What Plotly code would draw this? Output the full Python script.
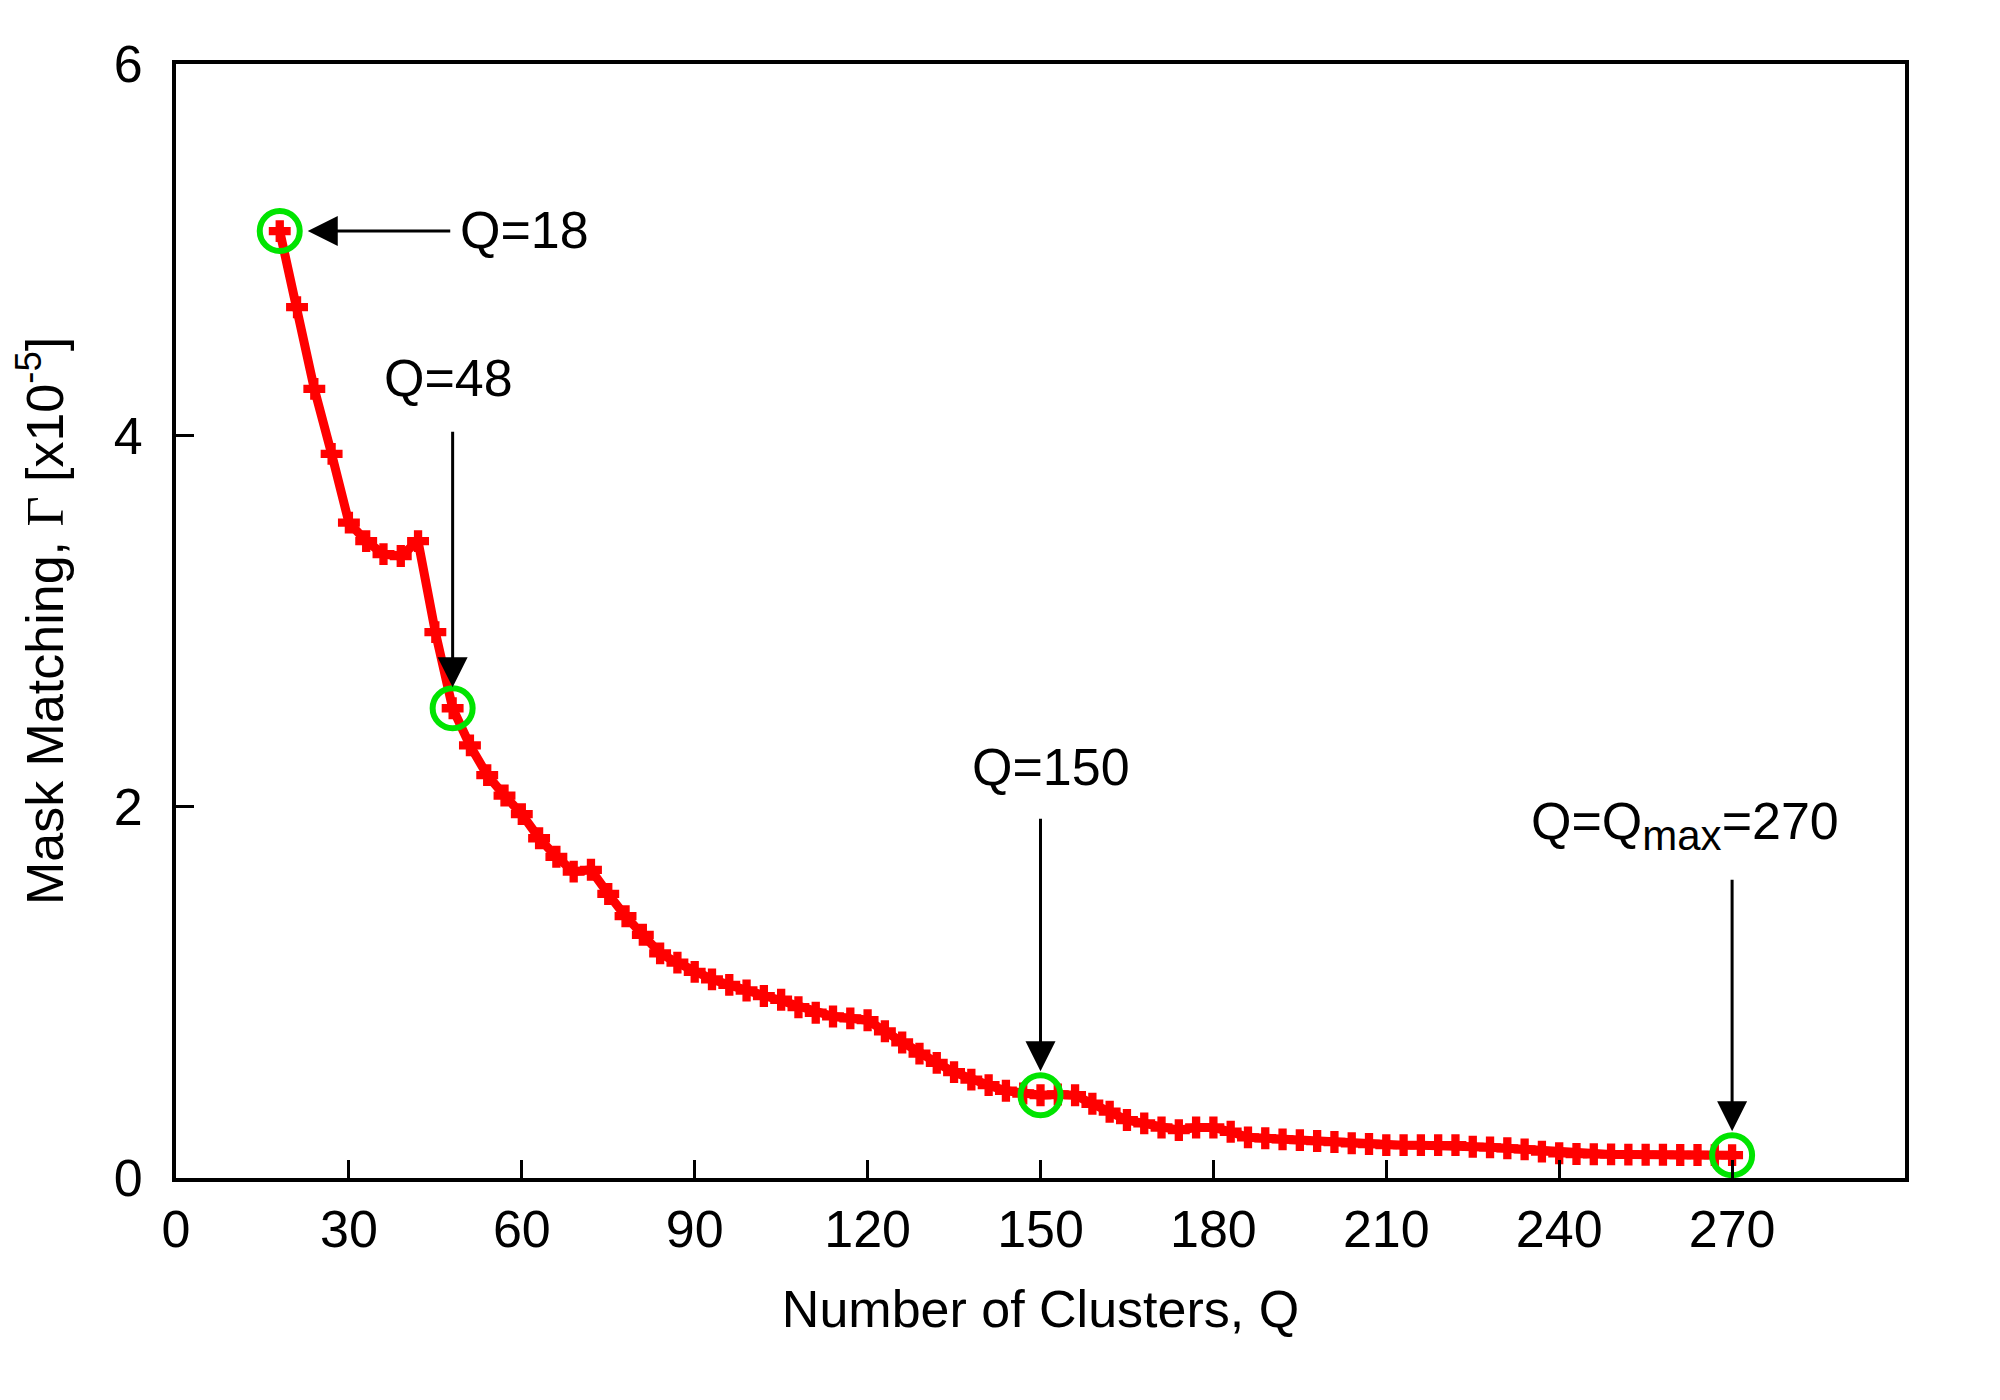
import plotly.graph_objects as go

# Number of clusters Q (every 3rd value from 18 to 270)
q_values = [18, 21, 24, 27, 30, 33, 36, 39, 42, 45, 48, 51, 54, 57, 60, 63, 66, 69, 72, 75,
            78, 81, 84, 87, 90, 93, 96, 99, 102, 105, 108, 111, 114, 117, 120, 123, 126, 129,
            132, 135, 138, 141, 144, 147, 150, 153, 156, 159, 162, 165, 168, 171, 174, 177,
            180, 183, 186, 189, 192, 195, 198, 201, 204, 207, 210, 213, 216, 219, 222, 225,
            228, 231, 234, 237, 240, 243, 246, 249, 252, 255, 258, 261, 264, 267, 270]

# Mask matching Gamma [x1e-5]
gamma = [5.10, 4.69, 4.25, 3.90, 3.53, 3.43, 3.36, 3.35, 3.43, 2.94, 2.53, 2.33, 2.17, 2.06,
         1.96, 1.83, 1.73, 1.65, 1.66, 1.53, 1.41, 1.31, 1.21, 1.16, 1.11, 1.07, 1.04, 1.01,
         0.98, 0.96, 0.92, 0.89, 0.87, 0.86, 0.85, 0.79, 0.73, 0.67, 0.62, 0.57, 0.53, 0.50,
         0.47, 0.455, 0.446, 0.45, 0.446, 0.40, 0.357, 0.312, 0.294, 0.272, 0.258, 0.272,
         0.272, 0.249, 0.219, 0.214, 0.208, 0.204, 0.199, 0.194, 0.187, 0.183, 0.177, 0.177,
         0.177, 0.177, 0.177, 0.168, 0.165, 0.160, 0.154, 0.142, 0.133, 0.129, 0.128, 0.127,
         0.126, 0.125, 0.125, 0.124, 0.124, 0.123, 0.123]

# highlighted cluster counts
marked_q = [18, 48, 150, 270]
marked_gamma = [gamma[q_values.index(q)] for q in marked_q]

x_ticks = [0, 30, 60, 90, 120, 150, 180, 210, 240, 270]
y_ticks = [0, 2, 4, 6]

FONT = "Liberation Sans, Arial, sans-serif"

fig = go.Figure()

fig.add_trace(go.Scatter(
    x=q_values, y=gamma,
    mode="lines+markers",
    line=dict(color="rgb(255,0,0)", width=9),
    marker=dict(symbol="cross", size=17, color="rgb(255,0,0)",
                line=dict(width=1.5, color="rgb(255,0,0)")),
    showlegend=False,
))

fig.add_trace(go.Scatter(
    x=marked_q, y=marked_gamma,
    mode="markers",
    marker=dict(symbol="circle-open", size=40, color="rgb(0,228,0)",
                line=dict(width=6, color="rgb(0,228,0)")),
    showlegend=False,
))

# arrows pointing at the highlighted points
arrow_offsets = [(172, 0, 28), (0, -278, 21), (0, -278, 24), (0, -277, 24)]
for q, g, (ax, ay, st) in zip(marked_q, marked_gamma, arrow_offsets):
    fig.add_annotation(x=q, y=g, ax=ax, ay=ay, text="", showarrow=True,
                       arrowhead=2, arrowsize=2, arrowwidth=3, arrowcolor="black",
                       standoff=st)

# labels
labels = [
    ("Q=18", 49.0, 5.107, "left"),
    ("Q=48", 47.2, 4.31, "center"),
    ("Q=150", 151.8, 2.215, "center"),
    ('Q=Q<sub><span style="font-size:42px">max</span></sub>=270', 261.8, 1.90, "center"),
]
for txt, lx, ly, anchor in labels:
    fig.add_annotation(x=lx, y=ly, text=txt, showarrow=False, xanchor=anchor,
                       yanchor="middle", font=dict(size=52, color="black", family=FONT))

fig.update_layout(
    width=2000, height=1400,
    margin=dict(l=168, r=103, t=56, b=230),
    paper_bgcolor="white", plot_bgcolor="white",
    font=dict(family=FONT, size=52, color="black"),
    xaxis=dict(
        range=[0, 300], tickvals=x_ticks, ticktext=[str(v) for v in x_ticks],
        showline=True, linecolor="black", linewidth=4, mirror=True,
        ticks="inside", ticklen=18, tickwidth=3, tickcolor="black",
        showgrid=False, zeroline=False, ticklabelstandoff=3,
        title=dict(text="Number of Clusters, Q", standoff=34, font=dict(size=52)),
    ),
    yaxis=dict(
        range=[0, 6], tickvals=y_ticks, ticktext=[str(v) for v in y_ticks],
        showline=True, linecolor="black", linewidth=4, mirror=True,
        ticks="inside", ticklen=18, tickwidth=3, tickcolor="black",
        showgrid=False, zeroline=False, ticklabelstandoff=19,
        title=dict(text='Mask Matching, <span style="font-family:Liberation Serif">Γ</span> [x10<sup>-5</sup>]',
                   standoff=39, font=dict(size=52)),
    ),
)

fig.write_html("out.html")
